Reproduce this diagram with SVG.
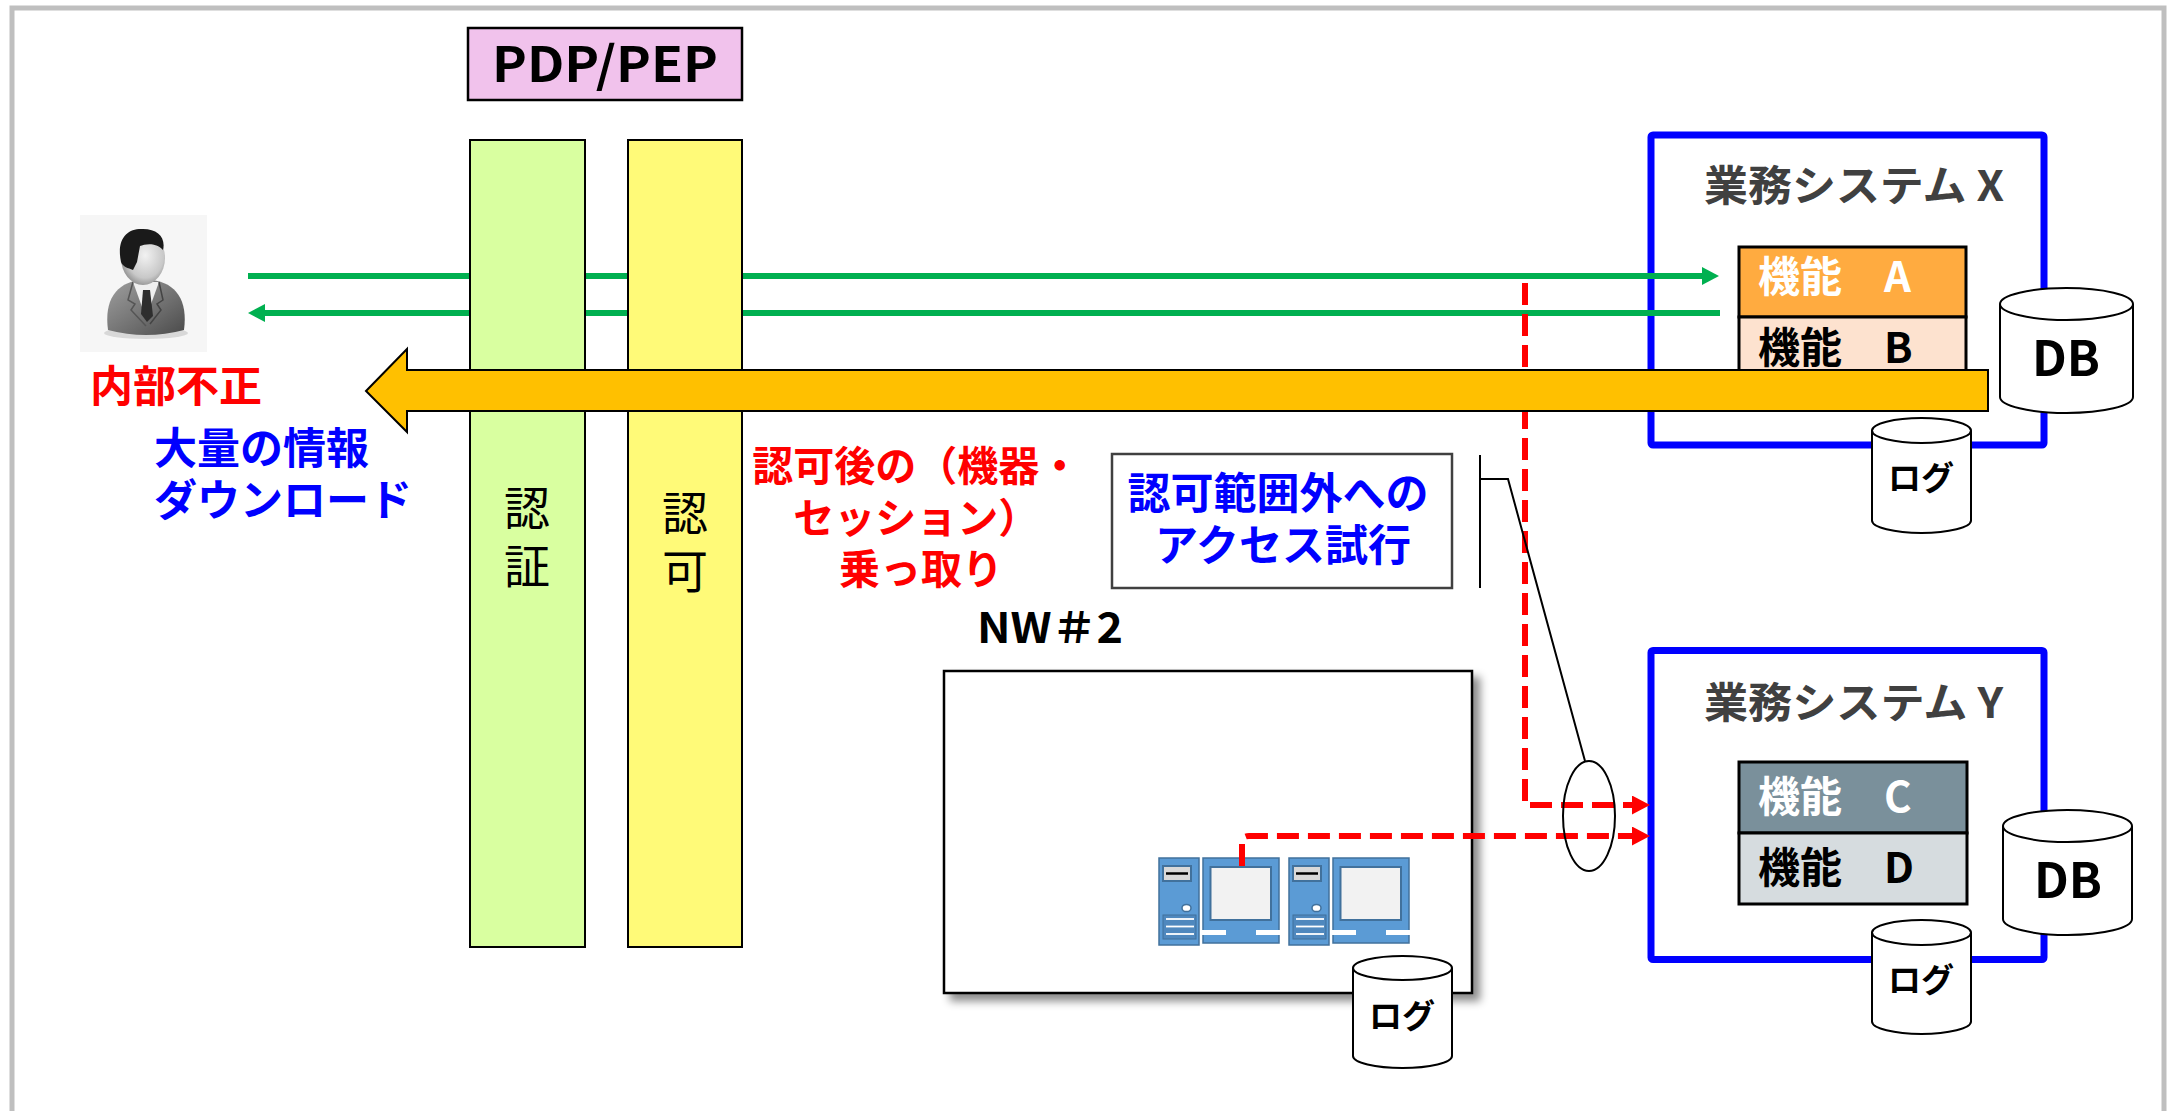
<svg xmlns="http://www.w3.org/2000/svg" xmlns:xlink="http://www.w3.org/1999/xlink" width="2167" height="1111" viewBox="0 0 2167 1111">
  <style>
    text { font-family: "Noto Sans CJK JP", "Noto Sans", sans-serif; }
    .b { font-weight: bold; }
    .bar { stroke: #000; stroke-width: 2; }
    .sys { fill: #fff; stroke: #0000ff; stroke-width: 7; }
    .title { font-size: 42px; font-weight: bold; fill: #404040; }
    .fn { stroke: #000; stroke-width: 3; }
    .fnt { font-size: 42px; font-weight: bold; }
    .cyl { fill: #fff; stroke: #000; stroke-width: 2; }
    .db { font-size: 48px; font-weight: bold; text-anchor: middle; }
    .log { font-size: 33px; font-weight: bold; text-anchor: middle; }
    .green { fill: none; stroke: #00b050; stroke-width: 6; }
    .reddash { fill: none; stroke: #ff0000; stroke-width: 6; stroke-dasharray: 22 9; }
    .thin { fill: none; stroke: #000; stroke-width: 2; }
    .pcb { fill: #5b9bd5; stroke: #41719c; stroke-width: 1.5; }
  </style>
  <defs>
    <marker id="ahGreen" markerUnits="userSpaceOnUse" markerWidth="18" markerHeight="18" refX="0" refY="9" orient="auto">
      <path d="M0,0 L17,9 L0,18 z" fill="#00b050"/>
    </marker>
    <marker id="ahRed" markerUnits="userSpaceOnUse" markerWidth="19" markerHeight="19" refX="0" refY="9.5" orient="auto">
      <path d="M0,0 L18,9.5 L0,19 z" fill="#ff0000"/>
    </marker>
    <filter id="shadow" x="-10%" y="-10%" width="125%" height="125%">
      <feDropShadow dx="7" dy="7" stdDeviation="4" flood-color="#000" flood-opacity="0.45"/>
    </filter>
    <radialGradient id="face" cx="0.55" cy="0.45" r="0.6">
      <stop offset="0" stop-color="#f2f2f2"/>
      <stop offset="0.7" stop-color="#c8c8c8"/>
      <stop offset="1" stop-color="#8a8a8a"/>
    </radialGradient>
    <linearGradient id="suit" x1="0" y1="0" x2="1" y2="1">
      <stop offset="0" stop-color="#a0a0a0"/>
      <stop offset="0.6" stop-color="#6e6e6e"/>
      <stop offset="1" stop-color="#4a4a4a"/>
    </linearGradient>
    <!-- tower + monitor workstation -->
    <g id="pc">
      <rect class="pcb" x="0" y="0" width="40" height="87"/>
      <rect x="4" y="8" width="28" height="15" fill="#d9d9d9" stroke="#41719c" stroke-width="2"/>
      <line x1="7" y1="15.5" x2="29" y2="15.5" stroke="#000" stroke-width="2.5"/>
      <ellipse cx="27.5" cy="50" rx="4.5" ry="3.6" fill="#fff" stroke="#41719c" stroke-width="1.5"/>
      <rect x="4" y="57" width="33" height="24" fill="#4f88be" stroke="#41719c" stroke-width="1"/>
      <line x1="7" y1="61" x2="35" y2="61" stroke="#fff" stroke-width="1.8"/>
      <line x1="7" y1="68.5" x2="35" y2="68.5" stroke="#fff" stroke-width="1.8"/>
      <line x1="7" y1="76" x2="35" y2="76" stroke="#fff" stroke-width="1.8"/>
      <rect class="pcb" x="44" y="0" width="76" height="85"/>
      <rect x="51.5" y="9" width="60.5" height="53" fill="#f2f2f2" stroke="#41719c" stroke-width="2"/>
      <rect x="43" y="72" width="24" height="5" fill="#fff"/>
      <rect x="97" y="72" width="24" height="5" fill="#fff"/>
    </g>
  </defs>

  <rect x="0" y="0" width="2167" height="1111" fill="#fff"/>
  <!-- page frame -->
  <rect x="12" y="8" width="2152" height="1200" fill="none" stroke="#bfbfbf" stroke-width="5"/>

  <!-- business system X -->
  <g id="sysX">
    <rect class="sys" x="1651" y="135" width="393" height="310" rx="2"/>
    <text class="title" x="1704" y="201" textLength="300" lengthAdjust="spacingAndGlyphs">業務システム X</text>
    <rect class="fn" x="1739" y="247" width="227" height="70" fill="#ffab40"/>
    <text class="fnt" x="1758" y="292" fill="#fff">機能　A</text>
    <rect class="fn" x="1739" y="317" width="227" height="70" fill="#fde2cf"/>
    <text class="fnt" x="1758" y="363" fill="#000">機能　B</text>
  </g>
  <g id="dbX">
    <path class="cyl" d="M2000,304 V397 A66.5,16 0 0 0 2133,397 V304"/>
    <ellipse class="cyl" cx="2066.5" cy="304" rx="66.5" ry="16"/>
    <text class="db" x="2066" y="376" textLength="68" lengthAdjust="spacingAndGlyphs">DB</text>
  </g>
  <g id="logX">
    <path class="cyl" d="M1872,430.5 V520.5 A49.5,12.5 0 0 0 1971,520.5 V430.5"/>
    <ellipse class="cyl" cx="1921.5" cy="430.5" rx="49.5" ry="12.5"/>
    <text class="log" x="1921" y="490">ログ</text>
  </g>

  <!-- business system Y -->
  <g id="sysY">
    <rect class="sys" x="1651" y="650.5" width="393" height="309" rx="2"/>
    <text class="title" x="1704" y="718" textLength="299" lengthAdjust="spacingAndGlyphs">業務システム Y</text>
    <rect class="fn" x="1739" y="762" width="228" height="71" fill="#7a909b"/>
    <text class="fnt" x="1758" y="812" fill="#fff">機能　C</text>
    <rect class="fn" x="1739" y="833" width="228" height="71" fill="#d6dcdf"/>
    <text class="fnt" x="1758" y="883" fill="#000">機能　D</text>
  </g>
  <g id="dbY">
    <path class="cyl" d="M2003,826 V919 A64.5,16 0 0 0 2132,919 V826"/>
    <ellipse class="cyl" cx="2067.5" cy="826" rx="64.5" ry="16"/>
    <text class="db" x="2068" y="898" textLength="68" lengthAdjust="spacingAndGlyphs">DB</text>
  </g>
  <g id="logY">
    <path class="cyl" d="M1872,932.5 V1021.5 A49.5,12.5 0 0 0 1971,1021.5 V932.5"/>
    <ellipse class="cyl" cx="1921.5" cy="932.5" rx="49.5" ry="12.5"/>
    <text class="log" x="1921" y="992">ログ</text>
  </g>

  <!-- network #2 -->
  <g id="nw2">
    <text class="b" x="977" y="643" font-size="42" textLength="146" lengthAdjust="spacingAndGlyphs">NW＃2</text>
    <rect x="944" y="671" width="528" height="322" fill="#fff" stroke="#000" stroke-width="2.5" filter="url(#shadow)"/>
    <use xlink:href="#pc" href="#pc" x="1159" y="858"/>
    <use xlink:href="#pc" href="#pc" x="1289" y="858"/>
  </g>
  <g id="logNW2">
    <path class="cyl" d="M1353,968 V1056 A49.5,12 0 0 0 1452,1056 V968"/>
    <ellipse class="cyl" cx="1402.5" cy="968" rx="49.5" ry="12"/>
    <text class="log" x="1402" y="1028">ログ</text>
  </g>

  <!-- user -->
  <g id="user">
    <rect x="80" y="215" width="127" height="137" fill="#f6f6f6"/>
    <ellipse cx="146" cy="333" rx="42" ry="6" fill="#d8d8d8"/>
    <path d="M108,330 C104,300 116,283 140,280 L152,280 C176,283 188,300 184,330 Q146,340 108,330 z" fill="url(#suit)"/>
    <path d="M133,282 L146,318 L159,282 z" fill="#f0f0f0"/>
    <path d="M143,290 L150,290 L153,316 L147,322 L141,314 z" fill="#2e2e2e"/>
    <path d="M133,282 L128,300 L135,304 L131,310 L146,326" fill="none" stroke="#555" stroke-width="1.5"/>
    <path d="M159,282 L163,300 L157,304 L161,310 L150,324" fill="none" stroke="#444" stroke-width="1.5"/>
    <ellipse cx="143" cy="258" rx="22" ry="27" fill="url(#face)"/>
    <path d="M121,262 C116,238 128,228 143,229 C158,229 166,238 163,250 C156,242 145,244 140,246 L137,262 L133,270 C128,268 123,267 121,262 z" fill="#1a1a1a"/>
  </g>
  <text class="b" x="90" y="402" font-size="43" fill="#ff0000">内部不正</text>
  <text class="b" x="154" y="464" font-size="43" fill="#0000ff">大量の情報</text>
  <text class="b" x="154" y="516" font-size="43" fill="#0000ff">ダウンロード</text>

  <!-- connectors -->
  <g id="connectors">
    <path class="green" d="M248,276 H1702" marker-end="url(#ahGreen)"/>
    <path class="green" d="M1720,313 H265" marker-end="url(#ahGreen)"/>
    <path class="reddash" d="M1525,283 V805 H1632" marker-end="url(#ahRed)"/>
    <path class="reddash" d="M1242,866 V843 Q1242,836 1249,836 H1632" marker-end="url(#ahRed)"/>
    <ellipse class="thin" cx="1589" cy="816" rx="26" ry="55"/>
    <path class="thin" d="M1480,455 V588 M1480,479 H1508 L1585,761"/>
  </g>

  <!-- PDP / PEP -->
  <g id="pdp">
    <rect x="468" y="28" width="274" height="72" fill="#f1c2ec" stroke="#000" stroke-width="2.5"/>
    <text class="b" x="605" y="82" font-size="49" text-anchor="middle" textLength="226" lengthAdjust="spacingAndGlyphs">PDP/PEP</text>
  </g>
  <g id="authn">
    <rect class="bar" x="470" y="140" width="115" height="807" fill="#d9ffa0"/>
    <text x="527" y="525" font-size="46" text-anchor="middle">認</text>
    <text x="527" y="583" font-size="46" text-anchor="middle">証</text>
  </g>
  <g id="authz">
    <rect class="bar" x="628" y="140" width="114" height="807" fill="#fffa78"/>
    <text x="685" y="530" font-size="46" text-anchor="middle">認</text>
    <text x="685" y="588" font-size="46" text-anchor="middle">可</text>
  </g>

  <!-- bulk download arrow -->
  <g id="download">
    <path d="M366,391 L407,349 L407,370 L1988,370 L1988,411 L407,411 L407,432 z" fill="#ffc000" stroke="#000" stroke-width="2"/>
  </g>

  <!-- labels -->
  <g id="hijack">
    <text class="b" font-size="41" fill="#ff0000" text-anchor="middle">
      <tspan x="921" y="481">認可後の（機器・</tspan>
      <tspan x="921" y="533">セッション）</tspan>
      <tspan x="921" y="584">乗っ取り</tspan>
    </text>
  </g>
  <g id="outOfScope">
    <rect x="1112" y="454" width="340" height="134" fill="#fff" stroke="#404040" stroke-width="2.5"/>
    <text class="b" font-size="43" fill="#0000ff" text-anchor="middle">
      <tspan x="1283" y="509">認可範囲外への</tspan>
      <tspan x="1283" y="561">アクセス試行</tspan>
    </text>
  </g>
</svg>
